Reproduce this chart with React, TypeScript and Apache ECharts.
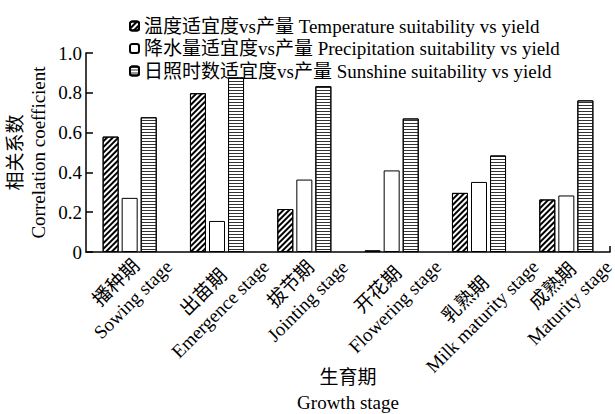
import React, { useEffect, useRef } from "react";
import * as echarts from "echarts";

const stageZh = ["播种期", "出苗期", "拔节期", "开花期", "乳熟期", "成熟期"];
const stageEn = [
  "Sowing stage",
  "Emergence stage",
  "Jointing stage",
  "Flowering stage",
  "Milk maturity stage",
  "Maturity stage",
];
const seriesNames = [
  "温度适宜度vs产量 Temperature suitability vs yield",
  "降水量适宜度vs产量 Precipitation suitability vs yield",
  "日照时数适宜度vs产量 Sunshine suitability vs yield",
];
const temperature = [0.58, 0.798, 0.216, 0.008, 0.297, 0.264];
const precipitation = [0.272, 0.156, 0.364, 0.41, 0.352, 0.284];
const sunshine = [0.677, 0.877, 0.833, 0.671, 0.485, 0.762];
const yTicks = [0, 0.2, 0.4, 0.6, 0.8, 1.0];

const FONT = "'Liberation Serif', 'Noto Sans CJK SC', serif";
const FS = 19;
const LH = 24;
const SHIFT = 7.5;

function measure(text: string): number {
  const ctx = document.createElement("canvas").getContext("2d");
  if (!ctx) return text.length * FS * 0.5;
  ctx.font = `${FS}px ${FONT}`;
  return ctx.measureText(text).width;
}

export default function App() {
  const ref = useRef<HTMLDivElement>(null);
  useEffect(() => {
    if (!ref.current) return;
    const chart = echarts.init(ref.current, undefined, { renderer: "svg" });

    const widths = stageZh.map((z, i) => Math.ceil(Math.max(measure(z), measure(stageEn[i]))));
    const rich: Record<string, any> = {};
    widths.forEach((w, i) => {
      rich[`t${i}`] = { width: w, align: "center", fontSize: FS, fontFamily: FONT, color: "#000", lineHeight: LH, height: LH };
      rich[`s${i}`] = { width: w * 0.5 + SHIFT, align: "right", fontSize: FS, lineHeight: LH, height: LH, color: "rgba(0,0,0,0)" };
      rich[`v${i}`] = { width: 1, height: w * 0.5 - SHIFT, lineHeight: w * 0.5 - SHIFT, fontSize: 1, color: "rgba(0,0,0,0)" };
    });

    const diag = {
      symbol: "rect",
      symbolSize: 1,
      color: "#000",
      backgroundColor: "#fff",
      dashArrayX: [1, 0],
      dashArrayY: [2, 2],
      rotation: -Math.PI / 4,
    };
    const horiz = {
      symbol: "rect",
      symbolSize: 1,
      color: "#333",
      backgroundColor: "#fff",
      dashArrayX: [1, 0],
      dashArrayY: [1, 2],
      rotation: 0,
    };
    const base = { type: "bar" as const, barWidth: 16, barGap: "19%" };

    chart.setOption({
      animation: false,
      textStyle: { fontFamily: FONT, color: "#000" },
      legend: {
        orient: "vertical",
        left: 124,
        top: 11,
        itemWidth: 9,
        itemHeight: 9,
        itemGap: 2.5,
        textStyle: { fontFamily: FONT, fontSize: FS, color: "#000", lineHeight: 20 },
        data: seriesNames,
      },
      grid: { left: 86, right: 5, top: 53, bottom: 162, containLabel: false, outerBoundsMode: "none" },
      xAxis: {
        type: "category",
        data: stageZh.map((z, i) => `${z}\n${stageEn[i]}`),
        axisLine: { lineStyle: { color: "#000", width: 1.5 } },
        axisTick: { show: false },
        axisLabel: {
          rotate: 45,
          interval: 0,
          margin: 3,
          align: "center",
          verticalAlign: "middle",
          fontFamily: FONT,
          fontSize: FS,
          color: "#000",
          rich,
          formatter: (_v: string, idx: number) =>
            `{v${idx}| }\n{t${idx}|${stageZh[idx]}}{s${idx}| }\n{t${idx}|${stageEn[idx]}}{s${idx}| }`,
        },
        name: "生育期\nGrowth stage",
        nameLocation: "middle",
        nameGap: 113,
        nameMoveOverlap: false,
        nameTextStyle: { fontFamily: FONT, fontSize: FS, color: "#000", lineHeight: 25 },
      },
      yAxis: {
        type: "value",
        min: yTicks[0],
        max: yTicks[yTicks.length - 1],
        interval: 0.2,
        splitLine: { show: false },
        axisLine: { show: true, lineStyle: { color: "#000", width: 1.5 } },
        axisTick: { show: true, inside: true, length: 7, lineStyle: { color: "#000", width: 1.5 } },
        axisLabel: {
          fontFamily: FONT,
          fontSize: FS,
          color: "#000",
          margin: 4,
          formatter: (v: number) => (v === 0 ? "0" : v.toFixed(1)),
        },
        name: "相关系数\nCorrelation coefficient",
        nameLocation: "middle",
        nameRotate: 90,
        nameGap: 36,
        nameMoveOverlap: false,
        nameTextStyle: { fontFamily: FONT, fontSize: FS, color: "#000", lineHeight: 23 },
      },
      graphic: [
        {
          type: "line",
          shape: { x1: 610, y1: 252, x2: 610, y2: 246 },
          style: { stroke: "#000", lineWidth: 1.5 },
        },
      ],
      series: [
        {
          ...base,
          name: seriesNames[0],
          data: temperature,
          itemStyle: { color: "#fff", borderColor: "#000", borderWidth: 1, decal: diag },
        },
        {
          ...base,
          name: seriesNames[1],
          data: precipitation,
          itemStyle: { color: "#fff", borderColor: "#000", borderWidth: 1 },
        },
        {
          ...base,
          name: seriesNames[2],
          data: sunshine,
          itemStyle: { color: "#fff", borderColor: "#000", borderWidth: 1, decal: horiz },
        },
      ],
    });
    return () => chart.dispose();
  }, []);
  return <div ref={ref} style={{ width: 615, height: 414, position: "absolute", left: 0, top: 0 }} />;
}
